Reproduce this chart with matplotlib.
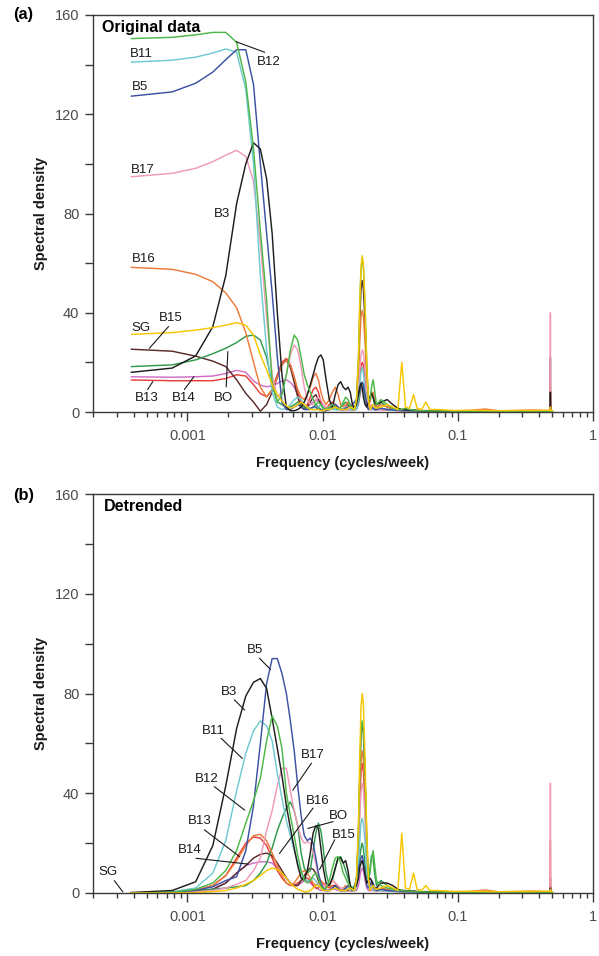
import matplotlib
matplotlib.use("Agg")
import matplotlib.pyplot as plt
from matplotlib.ticker import FixedLocator, FixedFormatter, NullFormatter

plt.rcParams['font.family'] = ['Liberation Sans', 'DejaVu Sans']

# ---------------- data ----------------
FREQ = [0.000385, 0.00077, 0.00115, 0.00154, 0.00192, 0.00231, 0.0027, 0.00308, 0.00346, 0.00385,
        0.00423, 0.00462, 0.005, 0.00539, 0.00577, 0.00616, 0.00654, 0.00693, 0.00731, 0.0077,
        0.0081, 0.0085, 0.0089, 0.0093, 0.0097, 0.0101, 0.0106, 0.0112, 0.0118, 0.0124,
        0.013, 0.0136, 0.0142, 0.0148, 0.0154, 0.016, 0.0166, 0.0172, 0.0178, 0.0184,
        0.0188, 0.0192, 0.0196, 0.02, 0.0206, 0.0212, 0.0218, 0.0224, 0.023, 0.0236,
        0.0242, 0.025, 0.027, 0.03, 0.033, 0.036, 0.0385, 0.041, 0.044, 0.047,
        0.05, 0.054, 0.058, 0.062, 0.07, 0.08, 0.095, 0.12, 0.16, 0.2,
        0.27, 0.35, 0.44, 0.478, 0.482, 0.484, 0.486, 0.5]

# Panel (a): original data
A_B12 = [150.5, 151, 152, 153, 153, 149, 133, 106, 73, 45,
         12, 4, 7, 15, 25, 31, 29, 22, 15, 11,
         8, 5, 3, 4, 3, 1.5, 1, 2, 3, 2,
         1, 2, 4, 6, 5, 3, 1, 1, 5, 22,
         42, 57, 62, 59, 42, 19, 5, 5, 10, 13,
         9, 3, 5, 3, 1.5, 1, 1, 1.5, 1, 0.8,
         0.6, 0.5, 0.5, 0.4, 0.4, 0.4, 0.3, 0.3, 0.3, 0.3,
         0.3, 0.3, 0.3, 0.3, 0.3, 0.3, 0.3, 0.3]
A_B11 = [141, 141.8, 143, 144.7, 146.3, 145, 130, 100, 55, 25,
         8, 2, 1, 1.5, 3, 5, 6, 5, 3, 2,
         1.5, 1, 1, 2, 3, 2, 1, 1, 1, 1,
         1, 1, 1.5, 2, 1.5, 1, 1, 1, 1, 5,
         11, 16, 18, 16, 9, 3, 1, 1, 1, 1.5,
         1, 1, 1.5, 1, 0.8, 0.8, 0.7, 0.6, 0.6, 0.5,
         0.5, 0.5, 0.4, 0.4, 0.4, 0.3, 0.4, 0.3, 0.3, 0.3,
         0.3, 0.3, 0.3, 0.3, 0.3, 0.5, 0.3, 0.3]
A_B5 = [127.3, 129, 132.5, 137, 142, 146, 146, 132, 100, 72,
        48, 22, 4, 1, 1, 2, 3, 2, 1, 1,
        1.5, 2, 2, 1, 1, 0.5, 0.5, 1, 2, 3,
        2, 1, 1, 1.5, 2, 2, 3, 4, 5, 7,
        9, 11, 12, 11, 7, 3, 1, 1.5, 2, 1.5,
        1, 1, 1.5, 1, 0.8, 0.8, 0.7, 0.6, 0.6, 0.5,
        0.5, 0.4, 0.4, 0.4, 0.3, 0.3, 0.3, 0.3, 0.3, 0.3,
        0.3, 0.3, 0.3, 0.3, 0.3, 0.4, 0.3, 0.3]
A_B17 = [94.8, 96.2, 98.2, 100.9, 103.5, 105.5, 103, 93, 68, 38,
         15, 6, 8, 15, 23, 27, 25, 18, 10, 5,
         3, 3, 5, 6, 5, 3, 2, 2, 3, 3,
         2, 1, 1, 1, 1, 1, 1, 1, 2, 9,
         17, 23, 25, 24, 17, 8, 2, 2, 3, 2,
         1, 1, 1, 0.8, 0.7, 0.6, 0.6, 0.5, 0.5, 0.5,
         0.4, 0.4, 0.4, 0.4, 0.3, 0.3, 0.3, 0.3, 0.3, 0.3,
         0.3, 0.3, 0.3, 0.3, 0.3, 40, 0.3, 0.3]
A_B3 = [16, 17.7, 22.6, 34.4, 55, 84, 100, 108.5, 106, 94,
        72, 40, 15, 2, 0.5, 0.5, 1, 2, 4, 7,
        11, 15, 19, 22, 23, 21, 13, 5, 2, 7,
        11, 12.2, 10, 9, 10, 8, 3, 1.5, 3, 7,
        10, 11.6, 10, 6, 3, 2, 4, 6, 7.6, 6,
        4, 3, 4, 5, 3, 1.5, 1, 1, 0.8, 0.8,
        0.6, 0.5, 0.5, 0.4, 0.4, 0.4, 0.3, 0.4, 0.3, 0.3,
        0.3, 0.3, 0.3, 0.3, 0.3, 8, 0.3, 0.3]
A_B16 = [58.3, 57.5, 55.5, 52.5, 48, 42, 32, 20, 10, 6,
         9, 14, 19, 21, 19, 14, 9, 6, 5, 7,
         10, 14, 15.6, 13, 8, 5, 3, 5, 8, 10,
         7, 3, 2, 3, 4, 3, 2, 2, 3, 14,
         28, 38, 41, 39, 28, 12, 3, 4, 7, 8,
         5, 2, 3, 2, 1.5, 1, 1, 1, 0.8, 0.8,
         0.7, 0.6, 0.6, 0.5, 0.6, 0.5, 0.5, 0.6, 1.2, 0.5,
         0.6, 0.8, 0.6, 0.6, 0.5, 10, 0.5, 0.4]
A_SG = [31.3, 32, 33, 34, 35, 36, 35, 31, 23, 17,
        11, 7, 4.5, 2.5, 1.5, 2, 3, 4, 3, 2,
        1, 1, 1, 1, 0.5, 0.5, 1, 1, 1.5, 2,
        1.5, 1, 1, 1, 1.5, 2, 1.5, 1, 5, 22,
        43, 58, 63, 60, 43, 19, 5, 1, 2, 3,
        2, 1.5, 2, 3, 2, 1, 20, 2, 1.5, 7,
        1.5, 1, 4, 1, 1, 0.8, 0.6, 0.7, 0.6, 0.5,
        0.6, 0.6, 0.7, 0.6, 0.6, 2, 0.6, 0.5]
A_B15 = [25.3, 24.5, 22.5, 20.5, 18.3, 13, 7.5, 4, 0.3, 3,
         8, 14, 19, 21, 18, 12, 6, 2, 1, 2,
         4, 6, 7, 5, 3, 1.5, 1, 1, 2, 3,
         2, 1, 1, 1, 1, 1, 1, 1, 4, 19,
         36, 49, 53, 50, 36, 16, 4, 1, 2, 2,
         1, 1, 1.5, 1, 0.8, 0.7, 0.6, 0.6, 0.5, 0.5,
         0.5, 0.4, 0.4, 0.4, 0.3, 0.3, 0.3, 0.3, 0.3, 0.3,
         0.3, 0.3, 0.3, 0.3, 0.3, 22, 0.3, 0.3]
A_BO = [18.3, 19, 21, 23.5, 25.7, 28, 30.5, 31, 29, 22,
        11, 4, 3, 2, 2, 3, 4, 3, 2, 1,
        1, 2, 3, 2, 1, 0.5, 1, 2, 1.5, 1,
        1, 2, 3, 4, 3, 2, 1, 1, 1.5, 4,
        7, 11, 12, 11, 6, 3, 3, 6, 8, 6,
        3, 1, 4, 2, 1, 0.8, 0.7, 0.6, 0.6, 0.5,
        0.5, 0.4, 0.4, 0.4, 0.3, 0.3, 0.3, 0.3, 0.3, 0.3,
        0.3, 0.3, 0.3, 0.3, 0.3, 0.4, 0.3, 0.3]
A_B13 = [12.9, 12.6, 12.6, 12.6, 13.5, 15, 14.5, 11, 7.4, 6.2,
         9, 15, 20, 21.6, 19, 14, 8, 4, 2, 3,
         6, 9, 10, 8, 4, 2, 1.5, 3, 4, 3,
         1.5, 1, 1, 2, 3, 2, 1, 1, 1.5, 7,
         14, 18, 20, 19, 14, 6, 2, 2, 3, 2,
         1, 1, 1, 0.8, 0.7, 0.6, 0.6, 0.5, 0.5, 0.5,
         0.4, 0.4, 0.4, 0.4, 0.3, 0.3, 0.3, 0.4, 0.3, 0.3,
         0.3, 0.3, 0.3, 0.3, 0.3, 6, 0.3, 0.3]
A_B14 = [14.2, 14, 14.2, 14.5, 15.5, 16.8, 16, 12.5, 10.8, 10.2,
         10.5, 11.5, 12.5, 12.9, 12, 10, 7, 4, 2, 2,
         3, 4, 5, 4, 3, 2, 1, 1, 2, 2,
         1, 1, 1, 1, 1, 1, 1, 1, 1, 3,
         6, 9, 10, 9, 5, 2, 1, 1, 1, 1,
         1, 1, 1, 0.8, 0.7, 0.6, 0.6, 0.5, 0.5, 0.5,
         0.4, 0.4, 0.4, 0.4, 0.3, 0.3, 0.3, 0.3, 0.3, 0.3,
         0.3, 0.3, 0.3, 0.3, 0.3, 0.4, 0.3, 0.3]

# Panel (b): detrended
B_B3 = [0.2, 1, 4.5, 19, 43, 66, 79, 84.5, 86, 82,
        70, 58, 47, 35, 26, 18, 11, 6, 5, 9,
        16, 24, 27, 26, 18, 10, 4, 3, 6, 10,
        14, 14, 12, 13, 9, 3, 1, 2, 3, 6,
        10, 12, 13, 11, 7, 4, 5, 6, 5, 3,
        2, 2, 4, 4, 3, 1.5, 1, 1, 0.8, 0.8,
        0.6, 0.5, 0.5, 0.4, 0.4, 0.4, 0.3, 0.4, 0.3, 0.3,
        0.3, 0.3, 0.3, 0.3, 0.3, 2, 0.3, 0.3]
B_B5 = [0, 0.3, 1, 2.5, 5, 6.5, 17, 35, 60, 84,
        94, 94, 88, 80, 69, 57, 43, 31, 23, 21,
        22, 20, 14, 8, 4, 2, 1, 1, 2, 3,
        2, 1, 1, 2, 3, 2, 1, 2, 6, 10,
        12, 14, 15, 13, 8, 3, 2, 3, 5, 4,
        2, 1, 1.5, 1, 0.8, 0.8, 0.7, 0.6, 0.6, 0.5,
        0.5, 0.4, 0.4, 0.4, 0.3, 0.3, 0.3, 0.3, 0.3, 0.3,
        0.3, 0.3, 0.3, 0.3, 0.3, 0.4, 0.3, 0.3]
B_B11 = [0, 0.5, 2, 8, 21, 41, 56, 65, 69, 67,
         61, 48, 38, 29, 23, 17, 12, 8, 6, 5,
         5, 6, 5, 3, 2, 1, 1, 1, 2, 2,
         1.5, 1, 1, 1.5, 2, 1.5, 1, 1, 3, 11,
         20, 28, 30, 28, 20, 9, 3, 2, 3, 2,
         1, 1, 1, 0.8, 0.7, 0.6, 0.6, 0.5, 0.5, 0.5,
         0.4, 0.4, 0.4, 0.4, 0.3, 0.3, 0.3, 0.3, 0.3, 0.3,
         0.3, 0.3, 0.3, 0.3, 0.3, 0.4, 0.3, 0.3]
B_B12 = [0, 0.3, 1.5, 4, 9, 17, 28, 37, 46, 61,
         71, 67, 58, 40, 31, 23, 15, 9, 5, 4,
         5, 7, 8, 6, 3, 1.5, 2, 5, 10, 14,
         14.6, 12, 8, 6, 4, 2, 1, 1.5, 6, 24,
         47, 63, 69, 66, 47, 21, 6, 8, 14, 17,
         12, 5, 3, 2, 1.5, 1, 1, 0.8, 0.8, 0.6,
         0.5, 0.5, 0.4, 0.4, 0.4, 0.3, 0.3, 0.3, 0.3, 0.3,
         0.3, 0.3, 0.3, 0.3, 0.3, 0.4, 0.3, 0.3]
B_B17 = [0, 0.2, 0.5, 1, 2, 3.5, 5, 9, 14, 25,
         33, 43, 50, 50, 41, 33, 27, 22, 20, 20.5,
         20, 16, 12, 7, 4, 3, 3, 4, 5, 4,
         3, 2, 2, 2, 1.5, 1, 1, 2, 4, 15,
         30, 40, 44, 42, 30, 13, 4, 2, 3, 2,
         1, 1, 1, 0.8, 0.7, 0.6, 0.6, 0.5, 0.5, 0.5,
         0.4, 0.4, 0.4, 0.4, 0.3, 0.3, 0.3, 0.3, 0.3, 0.3,
         0.3, 0.3, 0.3, 0.3, 0.3, 44, 0.3, 0.3]
B_B16 = [0, 0.2, 1, 3, 7, 13, 19, 23, 23.5, 21,
         16, 11, 7, 4, 3, 4, 6, 8, 9, 8,
         6, 4, 3, 4, 5, 4, 2, 3, 5, 4,
         2, 1, 2, 3, 2, 1, 1, 2, 5, 20,
         39, 52, 57, 54, 39, 17, 5, 3, 4, 3,
         2, 1.5, 2, 1.5, 1, 1, 0.8, 0.8, 0.7, 0.6,
         0.6, 0.5, 0.6, 0.5, 0.5, 0.6, 0.5, 0.6, 1.2, 0.5,
         0.6, 0.8, 0.6, 0.6, 0.5, 21, 0.5, 0.4]
B_B13 = [0, 0.2, 1, 3, 7, 14, 20, 22.5, 22, 19,
         14, 9, 6, 4, 3, 3, 4, 5, 6, 6,
         5, 3, 2, 2, 3, 4, 3, 2, 3, 3,
         2, 1, 1, 2, 2, 1, 1, 1, 4, 18,
         35, 48, 52, 49, 35, 16, 4, 2, 3, 2,
         1, 1, 1, 0.8, 0.7, 0.6, 0.6, 0.5, 0.5, 0.5,
         0.4, 0.4, 0.4, 0.4, 0.3, 0.3, 0.3, 0.4, 0.3, 0.3,
         0.3, 0.3, 0.3, 0.3, 0.3, 3, 0.3, 0.3]
B_B15 = [0, 0.2, 0.5, 1.5, 4, 8, 11, 14, 15.5, 16,
         15, 12, 9, 6, 4, 3, 3, 5, 7, 9,
         10, 9.5, 8, 5, 3, 2, 1, 1, 2, 3,
         2, 1, 1, 1, 1, 1, 1, 2, 5, 24,
         46, 63, 68, 65, 46, 20, 5, 1, 2, 2,
         1, 1, 1.5, 1, 0.8, 0.7, 0.6, 0.6, 0.5, 0.5,
         0.5, 0.4, 0.4, 0.4, 0.3, 0.3, 0.3, 0.3, 0.3, 0.3,
         0.3, 0.3, 0.3, 0.3, 0.3, 6, 0.3, 0.3]
B_B14 = [0, 0.2, 0.5, 1.5, 4, 8, 11, 12, 12.5, 12.5,
         12, 10, 8, 6, 4, 3, 3, 4, 5, 5,
         4, 3, 2, 1.5, 1, 1, 1, 1, 1.5, 1.5,
         1, 1, 1, 1, 1, 1, 1, 1, 1, 3,
         6, 9, 10, 9, 5, 2, 1, 1, 1, 1,
         1, 1, 1, 0.8, 0.7, 0.6, 0.6, 0.5, 0.5, 0.5,
         0.4, 0.4, 0.4, 0.4, 0.3, 0.3, 0.3, 0.3, 0.3, 0.3,
         0.3, 0.3, 0.3, 0.3, 0.3, 0.4, 0.3, 0.3]
B_SG = [0, 0, 0.2, 0.5, 1, 2, 3.5, 5, 7, 9,
        10, 9.5, 8, 6, 4, 2.5, 1.5, 1, 0.5, 0.5,
        1, 2, 3, 3, 2, 1, 1, 1, 1.5, 2,
        1.5, 1, 1, 1, 1.5, 2, 1.5, 1, 6, 28,
        54, 74, 80, 76, 54, 24, 6, 1, 2, 3,
        2, 1.5, 2, 3, 2, 1, 24, 2, 1.5, 8,
        1.5, 1, 3, 1, 1, 0.8, 0.6, 0.7, 0.6, 0.5,
        0.6, 0.6, 0.7, 0.6, 0.6, 1.5, 0.6, 0.5]
B_BO = [0, 0.3, 1, 1.5, 2, 2.5, 3, 5, 8, 12,
        18, 25, 30, 34, 36.5, 33, 27, 16, 10, 8,
        9, 17, 24, 28, 25, 18, 8, 3, 5, 10,
        14, 14.6, 12, 9, 6, 3, 2, 3, 5, 10,
        14, 18, 20, 18, 11, 5, 4, 10, 15, 14,
        8, 3, 5, 3, 1.5, 1, 1, 0.8, 0.8, 0.6,
        0.5, 0.5, 0.4, 0.4, 0.4, 0.3, 0.3, 0.3, 0.3, 0.3,
        0.3, 0.3, 0.3, 0.3, 0.3, 0.4, 0.3, 0.3]

SERIES_NAMES = ["B14", "B13", "B15", "BO", "B16", "B17", "B11", "B5", "B3", "B12", "SG"]
SERIES_COLORS = ["#cf6fc4", "#e8403a", "#5c2a2a", "#2f9a4e", "#ec7a3a", "#ef9ab8",
                 "#6fcad0", "#3d51a3", "#1e1e1e", "#4db848", "#f6c700"]
PANEL_A = [A_B14, A_B13, A_B15, A_BO, A_B16, A_B17, A_B11, A_B5, A_B3, A_B12, A_SG]
PANEL_B = [B_B14, B_B13, B_B15, B_BO, B_B16, B_B17, B_B11, B_B5, B_B3, B_B12, B_SG]

XMAJ = [0.001, 0.01, 0.1, 1]
XMAJ_LABELS = ["0.001", "0.01", "0.1", "1"]
YMAJ = [0, 40, 80, 120, 160]
YMIN = [20, 60, 100, 140]

# ---------------- figure ----------------
W, H = 599, 956
fig = plt.figure(figsize=(W / 100, H / 100), dpi=100)


def add_ax(top_px, bottom_px):
    return fig.add_axes([93 / W, 1 - bottom_px / H, 500 / W, (bottom_px - top_px) / H])


ax_a = add_ax(15, 412)
ax_b = add_ax(494, 893)

xminor = [m * 10.0 ** e for e in (-4, -3, -2, -1) for m in range(2, 10)]
xminor = [v for v in xminor if v >= 0.0002]

AXCOL = '#3a3a3a'


def style(ax):
    ax.set_xscale('log')
    ax.set_xlim(0.0002, 1)
    ax.set_ylim(0, 160)
    ax.xaxis.set_major_locator(FixedLocator(XMAJ))
    ax.xaxis.set_major_formatter(FixedFormatter(XMAJ_LABELS))
    ax.xaxis.set_minor_locator(FixedLocator(xminor))
    ax.xaxis.set_minor_formatter(NullFormatter())
    ax.yaxis.set_major_locator(FixedLocator(YMAJ))
    ax.yaxis.set_minor_locator(FixedLocator(YMIN))
    ax.tick_params(axis='both', which='both', direction='out', colors=AXCOL,
                   labelcolor='#4a4a4a', labelsize=10.5, width=1.0)
    ax.tick_params(axis='y', which='both', length=5.8, pad=4)
    ax.tick_params(axis='x', which='major', length=6.5, pad=6)
    ax.tick_params(axis='x', which='minor', length=3.5)
    for s in ax.spines.values():
        s.set_color(AXCOL)
        s.set_linewidth(1.0)
    ax.set_xlabel('Frequency (cycles/week)', fontsize=10.5, fontweight='bold', color='#1a1a1a')
    ax.xaxis.set_label_coords(0.5, -0.11)
    ax.set_ylabel('Spectral density', fontsize=10.5, fontweight='bold', color='#1a1a1a')
    ax.yaxis.set_label_coords(-0.09, 0.5)


for ax, panel in ((ax_a, PANEL_A), (ax_b, PANEL_B)):
    style(ax)
    for vals, col in zip(panel, SERIES_COLORS):
        ax.plot(FREQ, vals, color=col, lw=1.05, solid_joinstyle='round')


def label(ax, txt, x, y, leader=None):
    ax.text(x, y, txt, fontsize=9.5, ha='center', va='center', color='#1a1a1a')
    if leader is not None:
        (x0, y0), (x1, y1) = leader
        ax.plot([x0, x1], [y0, y1], color='#1a1a1a', lw=0.8, clip_on=False)


# panel (a) annotations
ax_a.text(0.000234, 155, 'Original data', fontsize=11.5, fontweight='bold', ha='left', va='center')
label(ax_a, 'B11', 0.000454, 144.4)
label(ax_a, 'B5', 0.000447, 130.9)
label(ax_a, 'B17', 0.000466, 97.4)
label(ax_a, 'B12', 0.003995, 140.9, ((0.003719, 145), (0.002296, 149.2)))
label(ax_a, 'B3', 0.001802, 79.9)
label(ax_a, 'B16', 0.000476, 61.5)
label(ax_a, 'SG', 0.000452, 33.7)
label(ax_a, 'B15', 0.000746, 37.8, ((0.000723, 34.4), (0.000523, 25.7)))
label(ax_a, 'B13', 0.000501, 5.5, ((0.000508, 9.1), (0.000553, 12.2)))
label(ax_a, 'B14', 0.000937, 5.5, ((0.000950, 9.1), (0.001114, 14.2)))
label(ax_a, 'BO', 0.001854, 5.8, ((0.001935, 10.2), (0.001988, 24.3)))

# panel (b) annotations
ax_b.text(0.000240, 154.9, 'Detrended', fontsize=11.5, fontweight='bold', ha='left', va='center')
label(ax_b, 'B5', 0.003134, 97.6, ((0.003415, 94.1), (0.0041, 89.7)))
label(ax_b, 'B3', 0.00203, 80.6, ((0.002228, 77.4), (0.002642, 73.4)))
label(ax_b, 'B11', 0.00154, 65, ((0.001777, 62), (0.002542, 54)))
label(ax_b, 'B12', 0.001394, 45.8, ((0.001585, 42.6), (0.002642, 33.3)))
label(ax_b, 'B13', 0.001238, 28.7, ((0.001336, 25.3), (0.002427, 14.6)))
label(ax_b, 'B14', 0.001044, 17.2, ((0.00116, 13.9), (0.002797, 11.6)))
label(ax_b, 'SG', 0.000257, 8.5, ((0.000288, 4.9), (0.000332, 0.5)))
label(ax_b, 'B17', 0.00848, 55.2, ((0.00825, 52), (0.006026, 41.3)))
label(ax_b, 'B16', 0.009231, 37, ((0.00848, 34), (0.0048, 15.9)))
label(ax_b, 'BO', 0.01298, 31, ((0.01192, 28.6), (0.00778, 25.9)))
label(ax_b, 'B15', 0.01423, 23.3, ((0.01227, 21.3), (0.0095, 9.5)))

fig.text(13 / W, 1 - 15 / H, '(a)', fontsize=11.8, fontweight='bold', ha='left', va='center')
fig.text(13 / W, 1 - 495 / H, '(b)', fontsize=11.8, fontweight='bold', ha='left', va='center')

fig.savefig('out.png', dpi=100)
